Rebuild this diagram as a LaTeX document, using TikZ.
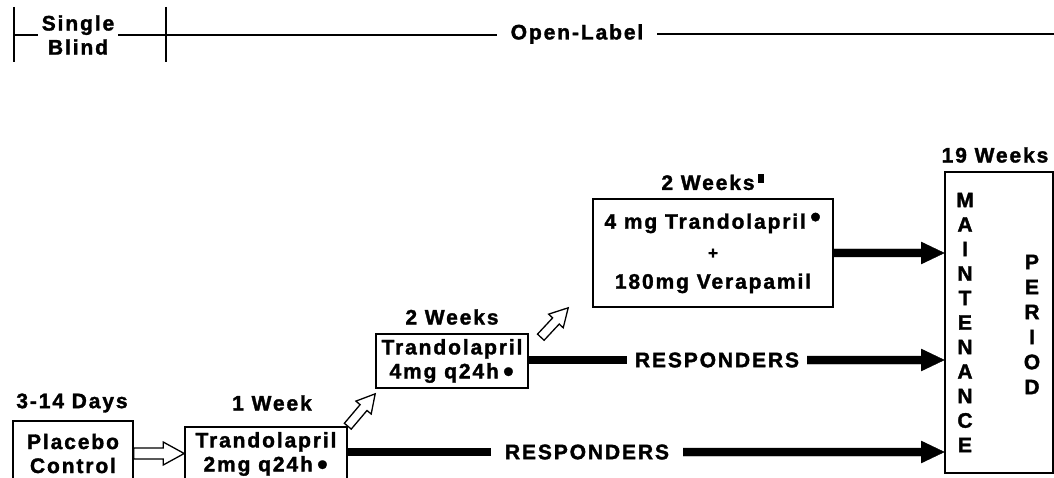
\documentclass[tikz,border=0pt]{standalone}
\usepackage{fontspec}
\setmainfont{Liberation Sans}[LetterSpace=9, BoldFeatures={FakeBold=1.6}]
\usetikzlibrary{calc}
\newcommand\dotmark[1]{\raisebox{#1}{\fontsize{20}{20}\selectfont ●}}
\tikzset{
  txt/.style={font=\fontsize{21}{24}\selectfont\bfseries, inner sep=2pt, align=center},
  box/.style={txt, draw, line width=1.6pt},
  phase/.style={line width=1.5pt},
  bar/.style={line width=8pt},
  arrshaft/.store in=\arrshaft, arrhead/.store in=\arrhead, arrlen/.store in=\arrlen,
  arrshaft=4pt, arrhead=11pt, arrlen=23pt,
  fat/.style={to path={let \p1=($(\tikztotarget)-(\tikztostart)$), \n1={atan2(\y1,\x1)}, \n2={veclen(\x1,\y1)} in
    {[shift={(\tikztostart)}, rotate=\n1]
    (0pt,-\arrshaft) -- ({\n2-\arrlen},-\arrshaft) -- ({\n2-\arrlen},-\arrhead) -- ({\n2+0pt},0pt)
    -- ({\n2-\arrlen},\arrhead) -- ({\n2-\arrlen},\arrshaft) -- (0pt,\arrshaft) -- cycle}}},
  fillarrow/.style={fat, fill=black},
  openarrow/.style={fat, draw, fill=white, line width=1.3pt, line join=miter,
    arrshaft=5.5pt, arrhead=11.5pt, arrlen=21pt}
}
\begin{document}
\begin{tikzpicture}[x=1pt,y=-1pt]
\useasboundingbox (0,0) rectangle (1054,478);
\clip (0,0) rectangle (1054,478);

\node[txt, inner xsep=4pt] (sb) at (78,35) {Single\\Blind};
\node[txt, inner xsep=14pt] (ol) at (577,34) {Open-Label};
\coordinate (pa) at (14,7);
\coordinate (pb) at (14,62);
\coordinate (pc) at (166,7);
\coordinate (pd) at (166,62);
\coordinate (pe) at (1054,35);
\draw[phase] (pa) -- (pb);
\draw[phase] (pc) -- (pd);
\draw[phase] (pa |- sb.west) -- (sb.west);
\draw[phase] (sb.east) -- (sb.east -| ol.west);
\draw[phase] (ol.east) -- (ol.east -| pe);

\node[txt] (t0) at (72,403) {3-14 Days};
\node[txt] (t1) at (272,403) {1 Week};
\node[txt] (t2) at (452,317) {2 Weeks};
\node[txt] (t3) at (708,182) {2 Weeks\rlap{\,\rule[7pt]{6pt}{9pt}}};
\node[txt] (t4) at (995,155) {19 Weeks};

\node[box, minimum width=120pt, minimum height=65pt] (pbo) at (73,453.5) {Placebo\\Control};
\node[box, minimum width=162pt, minimum height=54pt] (w1) at (266,454) {Trandolapril\\2mg q24h\,\dotmark{1pt}};
\node[box, minimum width=152pt, minimum height=54pt] (w2) at (452,361) {Trandolapril\\4mg q24h\,\dotmark{1pt}};
\node[box, minimum width=240pt, minimum height=108pt, font=\fontsize{21}{30}\selectfont\bfseries] (w3) at (713,253)
  {4 mg Trandolapril\,\dotmark{6pt}\\{\fontsize{17}{17}\selectfont +}\\180mg Verapamil};
\node[box, minimum width=108pt, minimum height=301pt] (mnt) at (999,322.5) {};
\node[txt, font=\fontsize{21}{24.5}\selectfont\bfseries] (mtxt) at (965,322.5) {M\\A\\I\\N\\T\\E\\N\\A\\N\\C\\E};
\node[txt, font=\fontsize{21}{25}\selectfont\bfseries] (prd) at (1032,324.5) {P\\E\\R\\I\\O\\D};

\node[txt, inner xsep=14pt] (r1) at (587,452) {RESPONDERS};
\node[txt, inner xsep=8pt] (r2) at (717,360) {RESPONDERS};

\draw[openarrow] (pbo.east) to (w1.west |- pbo.east);
\draw[openarrow, arrshaft=4.5pt, arrhead=10pt, arrlen=18pt] (w1.north east) to ([yshift=-5pt]w2.south west);
\draw[openarrow, arrshaft=4.5pt, arrhead=10pt, arrlen=18pt] ([xshift=12pt,yshift=-4pt]w2.north east) to ([xshift=-24pt]w3.south west);

\draw[bar] (w1.east |- r1) -- (r1.west);
\draw[fillarrow] (r1.east) to (mnt.west |- r1);
\draw[bar] (w2.east |- r2) -- (r2.west);
\draw[fillarrow] (r2.east) to (mnt.west |- r2);
\draw[fillarrow] (w3.east) to (mnt.west |- w3.east);
\end{tikzpicture}
\end{document}
